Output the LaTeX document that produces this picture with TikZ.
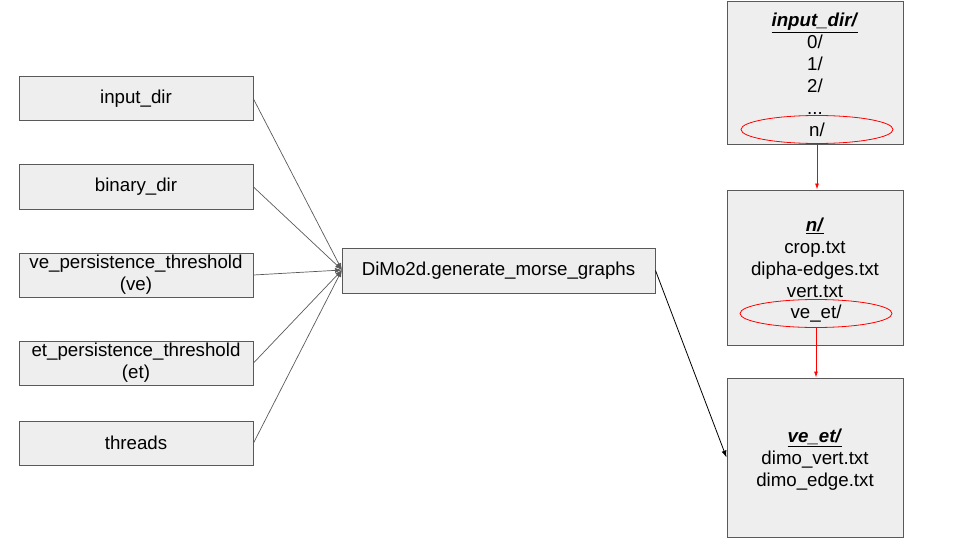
\documentclass[tikz,border=0pt]{standalone}
\usepackage{fontspec}
\setmainfont{Liberation Sans}
\usetikzlibrary{shapes.geometric,arrows.meta}
\definecolor{boxfill}{HTML}{EEEEEE}
\definecolor{boxline}{HTML}{595959}
\definecolor{grayline}{HTML}{595959}
\begin{document}
\begin{tikzpicture}[x=1pt,y=-1pt,
  every node/.style={font=\fontsize{18.7}{22}\selectfont, inner sep=0pt},
  box/.style={draw=boxline, fill=boxfill, line width=1pt, rectangle, align=center},
  leftbox/.style={box, minimum width=234pt, minimum height=44pt},
  rightbox/.style={box, minimum width=176pt},
  lines/.style={align=center},
  ring/.style={draw=red, ellipse, line width=0.8pt, minimum width=152pt, minimum height=28pt},
  feed/.style={draw=grayline, line width=0.7pt, -{Latex[length=7pt,width=5pt]}},
  redarrow/.style={draw=red, line width=0.8pt, -{Latex[length=6pt,width=4pt]}},
  blackarrow/.style={draw=black, line width=0.8pt, -{Latex[length=7pt,width=5pt]}}
]
\useasboundingbox (0,0) rectangle (960,540);
% left inputs
\node[leftbox] (in) at (136,99) {input\_dir};
\node[leftbox] (bin) at (136,187) {binary\_dir};
\node[leftbox] (ve) at (136,275) {ve\_persistence\_threshold\\(ve)};
\node[leftbox] (et) at (136,363) {et\_persistence\_threshold\\(et)};
\node[leftbox] (thr) at (136,443) {threads};
% center
\node[box, minimum width=313pt, minimum height=45pt] (gen) at (498.5,270.5) {DiMo2d.generate\_morse\_graphs};
\coordinate (join) at (342,270);
% right boxes
\node[rightbox, minimum height=143pt] (b1) at (815,73.5) {};
\node[lines] (t1) at (815,64) {\underline{\textbf{\textit{input\_dir/}}}\\0/\\1/\\2/\\...};
\node[ring] (e1) at (817,129.5) {n/};

\node[rightbox, minimum height=155pt] (b2) at (815,267.5) {};
\node[lines] (t2) at (815,258) {\underline{\textbf{\textit{n/}}}\\crop.txt\\dipha-edges.txt\\vert.txt};
\node[ring] (e2) at (816,313.5) {ve\_et/};

\node[rightbox, minimum height=159pt] (b3) at (815,457.5) {};
\node[lines] (t3) at (815,460) {\underline{\textbf{\textit{ve\_et/}}}\\dimo\_vert.txt\\dimo\_edge.txt};

% connectors
\foreach \n in {in,bin,ve,et,thr} \draw[feed] (\n.east) -- (join);
\draw[blackarrow] (gen.east) -- (b3.west);
\draw[redarrow] (e1.south) -- (b2.north -| e1.south);
\draw[redarrow] (e2.south) -- (b3.north -| e2.south);
\end{tikzpicture}
\end{document}
